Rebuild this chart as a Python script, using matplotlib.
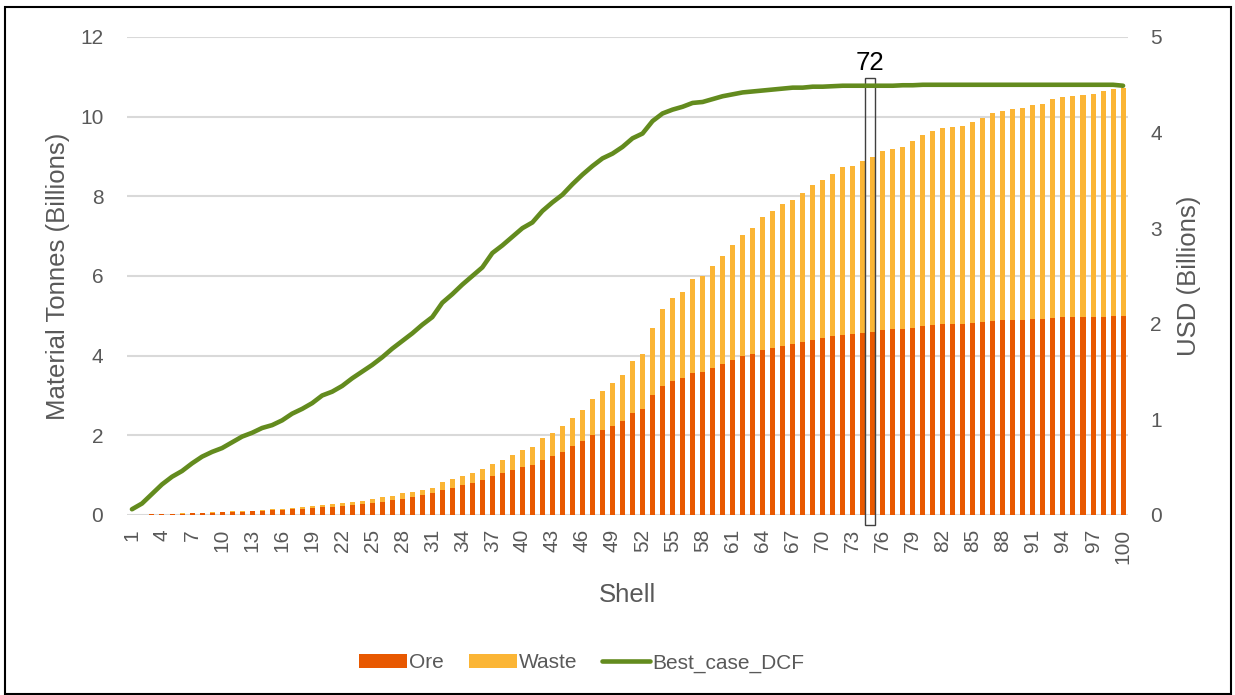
import matplotlib
matplotlib.use("Agg")
import matplotlib.pyplot as plt
from matplotlib.patches import Rectangle
import numpy as np

plt.rcParams["font.family"] = ["Liberation Sans", "DejaVu Sans"]

# tonnes per shell (billions)
shells = list(range(1, 101))
ore = [0.0, 0.005, 0.015, 0.02, 0.025, 0.035, 0.04, 0.05, 0.06, 0.07,
       0.075, 0.085, 0.09, 0.11, 0.12, 0.13, 0.15, 0.16, 0.18, 0.19,
       0.20, 0.22, 0.24, 0.27, 0.30, 0.33, 0.37, 0.39, 0.44, 0.50,
       0.54, 0.64, 0.69, 0.76, 0.81, 0.88, 0.99, 1.05, 1.14, 1.21,
       1.26, 1.39, 1.49, 1.59, 1.73, 1.86, 2.02, 2.13, 2.23, 2.37,
       2.57, 2.65, 3.00, 3.24, 3.37, 3.45, 3.57, 3.60, 3.70, 3.79,
       3.90, 3.98, 4.05, 4.13, 4.19, 4.25, 4.29, 4.35, 4.40, 4.44,
       4.49, 4.53, 4.55, 4.58, 4.60, 4.64, 4.67, 4.67, 4.70, 4.75,
       4.78, 4.80, 4.80, 4.80, 4.83, 4.85, 4.88, 4.90, 4.90, 4.90,
       4.92, 4.93, 4.95, 4.96, 4.97, 4.97, 4.98, 4.98, 5.00, 5.00]
waste = [0.0, 0.0, 0.005, 0.005, 0.005, 0.005, 0.01, 0.01, 0.015, 0.015,
         0.015, 0.015, 0.02, 0.02, 0.02, 0.02, 0.025, 0.03, 0.04, 0.05,
         0.07, 0.07, 0.09, 0.09, 0.09, 0.11, 0.11, 0.15, 0.14, 0.14,
         0.15, 0.18, 0.21, 0.22, 0.24, 0.27, 0.28, 0.33, 0.36, 0.41,
         0.45, 0.54, 0.58, 0.64, 0.71, 0.78, 0.88, 0.98, 1.08, 1.14,
         1.30, 1.39, 1.70, 1.92, 2.07, 2.15, 2.35, 2.40, 2.56, 2.71,
         2.89, 3.05, 3.16, 3.34, 3.44, 3.56, 3.63, 3.73, 3.89, 3.96,
         4.08, 4.21, 4.22, 4.31, 4.39, 4.49, 4.53, 4.56, 4.69, 4.79,
         4.86, 4.91, 4.94, 4.96, 5.03, 5.12, 5.21, 5.23, 5.29, 5.31,
         5.36, 5.39, 5.49, 5.53, 5.56, 5.57, 5.60, 5.66, 5.69, 5.72]
# discounted cash flow, USD billions
best_case_dcf = [0.06, 0.12, 0.22, 0.32, 0.40, 0.46, 0.54, 0.61, 0.66, 0.70,
                 0.76, 0.82, 0.86, 0.91, 0.94, 0.99, 1.06, 1.11, 1.17, 1.25,
                 1.29, 1.35, 1.43, 1.50, 1.57, 1.65, 1.74, 1.82, 1.90, 1.99,
                 2.07, 2.22, 2.31, 2.41, 2.50, 2.59, 2.74, 2.82, 2.91, 3.00,
                 3.06, 3.18, 3.27, 3.35, 3.46, 3.56, 3.65, 3.73, 3.78, 3.85,
                 3.94, 3.99, 4.12, 4.20, 4.24, 4.27, 4.31, 4.32, 4.35, 4.38,
                 4.40, 4.42, 4.43, 4.44, 4.45, 4.46, 4.47, 4.47, 4.48, 4.48,
                 4.485, 4.49, 4.49, 4.49, 4.49, 4.49, 4.49, 4.495, 4.495, 4.50,
                 4.50, 4.50, 4.50, 4.50, 4.50, 4.50, 4.50, 4.50, 4.50, 4.50,
                 4.50, 4.50, 4.50, 4.50, 4.50, 4.50, 4.50, 4.50, 4.50, 4.49]
highlight_shell = 75
highlight_label = "72"

ORE_C = "#E85800"
WASTE_C = "#FBB535"
DCF_C = "#638B1E"
TXT = "#595959"
GRID = "#D9D9D9"

fig = plt.figure(figsize=(12.35, 6.95), dpi=100)
ax = fig.add_axes([0.1028, 0.259, 0.8106, 0.6878])
ax2 = ax.twinx()

x = np.array(shells)
ax.bar(x, ore, width=0.5, color=ORE_C, label="Ore", zorder=2)
ax.bar(x, waste, width=0.5, bottom=ore, color=WASTE_C, label="Waste", zorder=2)
ax2.plot(x, best_case_dcf, color=DCF_C, lw=3.3, label="Best_case_DCF",
         solid_capstyle="round", zorder=3)

ax.set_xlim(0.5, 100.5)
ax.set_ylim(0, 12)
ax.set_yticks(range(0, 13, 2))
ax2.set_ylim(0, 5)
ax2.set_yticks(range(0, 6))
ax.yaxis.grid(True, color=GRID, lw=1.5, zorder=0)
ax.set_axisbelow(True)

ax.set_xticks(x[::3])
ax.set_xticklabels([str(s) for s in shells[::3]], rotation=90)
for a in (ax, ax2):
    for s in a.spines.values():
        s.set_visible(False)
ax.tick_params(axis="x", length=0, pad=10, labelsize=15, labelcolor=TXT)
ax.tick_params(axis="y", length=0, pad=17, labelsize=15, labelcolor=TXT)
ax2.tick_params(axis="y", length=0, pad=16, labelsize=15, labelcolor=TXT)

ax.set_xlabel("Shell", fontsize=18.5, color=TXT, labelpad=14)
ax.set_ylabel("Material Tonnes (Billions)", fontsize=18.5, color=TXT, labelpad=7)
ax2.set_ylabel("USD (Billions)", fontsize=18.5, color=TXT, labelpad=11)

# outline box around the selected shell
ax.add_patch(Rectangle((highlight_shell - 0.8, -0.25), 1.0, 11.22,
                       fill=False, edgecolor="#404040", lw=1.0,
                       clip_on=False, zorder=5))
ax.text(highlight_shell - 0.3, 11.05, highlight_label, ha="center", va="bottom",
        fontsize=18.5, color="black")

h1, l1 = ax.get_legend_handles_labels()
h2, l2 = ax2.get_legend_handles_labels()
fig.legend(h1 + h2, l1 + l2, loc="center", bbox_to_anchor=(0.471, 0.046),
           ncol=3, frameon=False, fontsize=15, labelcolor=TXT,
           handlelength=2.3, handleheight=0.7, handletextpad=0.1,
           columnspacing=1.2)

fig.patches.append(Rectangle((0.004, 0.002), 0.993, 0.988, transform=fig.transFigure,
                             fill=False, edgecolor="black", lw=1.5))

fig.savefig("out.png", dpi=100)
